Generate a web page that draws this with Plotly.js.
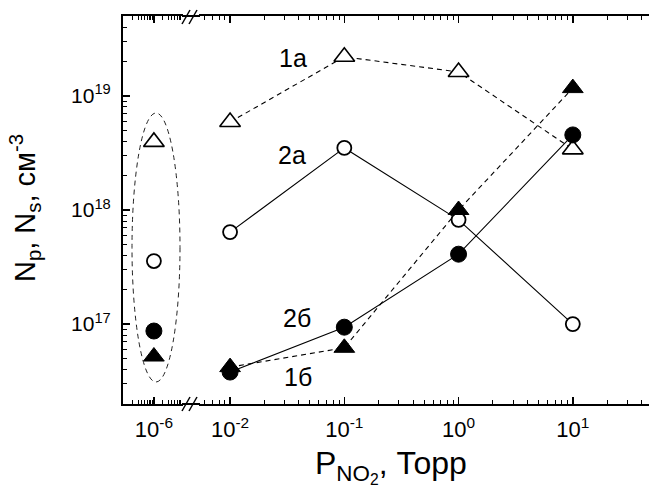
<!DOCTYPE html>
<html><head><meta charset="utf-8">
<script src="https://cdn.plot.ly/plotly-3.0.1.min.js"></script>
<style>html,body{margin:0;padding:0;background:#fff}#chart{width:649px;height:494px}</style>
</head><body><div id="chart"></div>
<script>
// pressure values, Torr
const pressure = [0.01, 0.1, 1, 10];
const pressureRef = [1e-6];
// concentrations, cm^-3
const n1a = [5.9e18, 2.2e19, 1.62e19, 3.4e18];
const n2a = [6.4e17, 3.5e18, 8.2e17, 1.0e17];
const n1b = [4.2e16, 6.2e16, 1.0e18, 1.17e19];
const n2b = [3.8e16, 9.4e16, 4.1e17, 4.55e18];
const ref1a = [3.95e18];
const ref2a = [3.57e17];
const ref1b = [5.2e16];
const ref2b = [8.7e16];
const seriesLabels = ['1а', '2а', '2б', '1б'];
const xTickValsLeft = [1e-6];
const xTickTextLeft = ['10<sup>-6</sup>'];
const xTickVals = [1e-2, 1e-1, 1, 10];
const xTickText = ['10<sup>-2</sup>', '10<sup>-1</sup>', '10<sup>0</sup>', '10<sup>1</sup>'];
const yTickVals = [1e17, 1e18, 1e19];
const yTickText = ['10<sup>17</sup>', '10<sup>18</sup>', '10<sup>19</sup>'];
const xTitle = 'P<sub>NO<sub>2</sub></sub>, Торр';
const yTitle = 'N<sub>p</sub>, N<sub>s</sub>, см<sup>-3</sup>';

const FONT = 'Arial, "Liberation Sans", sans-serif';
const W = 526, H = 388; // plot area in px
const px = v => (v - 123) / W;
const py = v => (404 - v) / H;

const openCircle = {symbol: 'circle', size: 14, color: '#fff', line: {color: '#000', width: 1.8}};
const openTri = {symbol: 'triangle-up', size: 18, color: '#fff', line: {color: '#000', width: 1.6}};
const fillTri = {symbol: 'triangle-up', size: 18, color: '#000', line: {color: '#000', width: 1}};
const fillCircle = {symbol: 'circle', size: 16, color: '#000', line: {color: '#000', width: 1}};
const solid = {color: '#000', width: 1.1};
const dashed = {color: '#000', width: 1.1, dash: '5px,4px'};

const traces = [
  {x: pressure, y: n2a, xaxis: 'x2', yaxis: 'y', mode: 'lines+markers', line: solid, marker: openCircle},
  {x: pressure, y: n1a, xaxis: 'x2', yaxis: 'y', mode: 'lines+markers', line: dashed, marker: openTri},
  {x: pressure, y: n1b, xaxis: 'x2', yaxis: 'y', mode: 'lines+markers', line: dashed, marker: fillTri},
  {x: pressure, y: n2b, xaxis: 'x2', yaxis: 'y', mode: 'lines+markers', line: solid, marker: fillCircle},
  {x: pressureRef, y: ref1a, xaxis: 'x', yaxis: 'y', mode: 'markers', marker: openTri},
  {x: pressureRef, y: ref2a, xaxis: 'x', yaxis: 'y', mode: 'markers', marker: openCircle},
  {x: pressureRef, y: ref2b, xaxis: 'x', yaxis: 'y', mode: 'markers', marker: fillCircle},
  {x: pressureRef, y: ref1b, xaxis: 'x', yaxis: 'y', mode: 'markers', marker: fillTri}
];

const minor = {dtick: 'D1', ticks: 'inside', ticklen: 4, tickwidth: 1, tickcolor: '#000', showgrid: false};
const axCommon = {
  type: 'log', ticks: 'inside', ticklen: 7, tickwidth: 1.5, tickcolor: '#000',
  showline: true, linewidth: 2, linecolor: '#000', showgrid: false, zeroline: false,
  tickfont: {family: FONT, size: 21, color: '#000'}, minor: minor, fixedrange: true
};
const xTickFont = {family: FONT, size: 22, color: '#000'};
const labelFont = {family: FONT, size: 25, color: '#000'};

const layout = {
  width: 649, height: 494,
  margin: {l: 123, r: 0, t: 16, b: 90},
  paper_bgcolor: '#fff', plot_bgcolor: '#fff',
  showlegend: false,
  font: {family: FONT, color: '#000'},
  xaxis: Object.assign({}, axCommon, {
    domain: [0, px(183)], range: [-7.03, -5.03], anchor: 'y', mirror: 'allticks',
    tickmode: 'array', tickvals: xTickValsLeft, ticktext: xTickTextLeft,
    tickfont: xTickFont, ticklabelstandoff: 5
  }),
  xaxis2: Object.assign({}, axCommon, {
    domain: [px(199), 1], range: [-2.272, 1.667], anchor: 'y', mirror: 'allticks',
    tickmode: 'array', tickvals: xTickVals, ticktext: xTickText,
    tickfont: xTickFont, ticklabelstandoff: 5
  }),
  yaxis: Object.assign({}, axCommon, {
    range: [16.3, 19.7], anchor: 'x', mirror: false,
    tickmode: 'array', tickvals: yTickVals, ticktext: yTickText, ticklabelstandoff: 6
  }),
  yaxis2: Object.assign({}, axCommon, {
    range: [16.3, 19.7], anchor: 'x2', overlaying: 'y', side: 'right',
    showline: false, showticklabels: false,
    tickmode: 'array', tickvals: yTickVals, ticktext: yTickText
  }),
  shapes: [
    // axis line across the break
    {type: 'line', xref: 'paper', yref: 'paper', x0: px(182), x1: px(200), y0: 0, y1: 0, line: {color: '#000', width: 2}},
    {type: 'line', xref: 'paper', yref: 'paper', x0: px(182), x1: px(200), y0: 1, y1: 1, line: {color: '#000', width: 2}},
    // break slashes bottom
    {type: 'line', xref: 'paper', yref: 'paper', x0: px(182), x1: px(190), y0: py(411), y1: py(397), line: {color: '#000', width: 1.5}},
    {type: 'line', xref: 'paper', yref: 'paper', x0: px(189), x1: px(197), y0: py(411), y1: py(397), line: {color: '#000', width: 1.5}},
    // break slashes top
    {type: 'line', xref: 'paper', yref: 'paper', x0: px(182), x1: px(190), y0: py(24), y1: py(10), line: {color: '#000', width: 1.5}},
    {type: 'line', xref: 'paper', yref: 'paper', x0: px(189), x1: px(197), y0: py(24), y1: py(10), line: {color: '#000', width: 1.5}},
    // dashed ellipse around reference points
    {type: 'circle', xref: 'paper', yref: 'paper', x0: px(132), x1: px(180), y0: py(382), y1: py(113), line: {color: '#222', width: 1, dash: '5px,4px'}}
  ],
  annotations: [
    {xref: 'paper', yref: 'paper', x: px(293), y: py(58), xanchor: 'center', yanchor: 'middle', text: seriesLabels[0], showarrow: false, font: labelFont},
    {xref: 'paper', yref: 'paper', x: px(292), y: py(155), xanchor: 'center', yanchor: 'middle', text: seriesLabels[1], showarrow: false, font: labelFont},
    {xref: 'paper', yref: 'paper', x: px(297), y: py(318), xanchor: 'center', yanchor: 'middle', text: seriesLabels[2], showarrow: false, font: labelFont},
    {xref: 'paper', yref: 'paper', x: px(298), y: py(377), xanchor: 'center', yanchor: 'middle', text: seriesLabels[3], showarrow: false, font: labelFont},
    {xref: 'paper', yref: 'paper', x: px(391), y: py(490), xanchor: 'center', yanchor: 'bottom', text: xTitle, showarrow: false, font: {family: FONT, size: 32, color: '#000'}},
    {xref: 'paper', yref: 'paper', x: px(3), y: py(208), xanchor: 'left', yanchor: 'middle', text: yTitle, textangle: -90, showarrow: false, font: {family: FONT, size: 29, color: '#000'}}
  ]
};

Plotly.newPlot('chart', traces, layout, {displayModeBar: false, staticPlot: true});
</script>
</body></html>
